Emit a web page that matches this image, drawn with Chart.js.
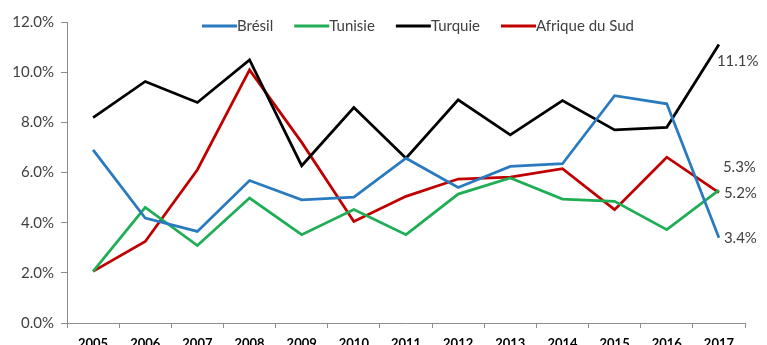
<!DOCTYPE html>
<html>
<head>
<meta charset="utf-8">
<script src="https://cdn.jsdelivr.net/npm/chart.js@4/dist/chart.umd.min.js"></script>
<style>
  html, body { margin: 0; padding: 0; background: #fff; }
  #wrap { width: 767px; height: 345px; position: relative; }
</style>
</head>
<body>
<div id="wrap"><canvas id="grafico"></canvas></div>
<script>
// ===================== DONNÉES =====================
const annees = ['2005', '2006', '2007', '2008', '2009', '2010', '2011', '2012', '2013', '2014', '2015', '2016', '2017'];

const bresil = [6.9, 4.18, 3.65, 5.68, 4.91, 5.02, 6.57, 5.40, 6.24, 6.35, 9.06, 8.74, 3.4];
const tunisie = [2.06, 4.61, 3.09, 4.98, 3.52, 4.52, 3.52, 5.14, 5.78, 4.94, 4.85, 3.72, 5.3];
const turquie = [8.19, 9.63, 8.79, 10.49, 6.27, 8.59, 6.57, 8.9, 7.5, 8.87, 7.7, 7.8, 11.1];
const afriqueDuSud = [2.06, 3.25, 6.11, 10.09, 7.2, 4.05, 5.05, 5.74, 5.82, 6.15, 4.52, 6.61, 5.2];

const yTicks = [0, 2, 4, 6, 8, 10, 12];

const FONT = 'Lato, "Open Sans", sans-serif';
const GRIS_TEXTE = '#404040';
const GRIS_AXE = '#8c8c8c';

// décalages des étiquettes de fin de série (en pixels)
const decalEtiquettes = {
    'Turquie': { dx: -2, dy: 17 },
    'Tunisie': { dx: 4, dy: -23 },
    'Afrique du Sud': { dx: 5, dy: 1 },
    'Brésil': { dx: 5, dy: 0 }
};

// ===================== PLUGINS =====================
// légende posée sur la zone du graphique, comme dans Excel
const legendePlugin = {
    id: 'legendeExcel',
    afterDraw(chart) {
        const ctx = chart.ctx;
        ctx.save();
        ctx.font = '15px ' + FONT;
        ctx.textBaseline = 'middle';
        let x = 202;
        const y = 26;
        chart.data.datasets.forEach(ds => {
            ctx.strokeStyle = ds.borderColor;
            ctx.lineWidth = 3;
            ctx.beginPath();
            ctx.moveTo(x, y);
            ctx.lineTo(x + 35, y);
            ctx.stroke();
            x += 35;
            ctx.fillStyle = GRIS_TEXTE;
            ctx.fillText(ds.label, x, y);
            x += ctx.measureText(ds.label).width + 21;
        });
        ctx.restore();
    }
};

// valeurs 2017 à droite des courbes
const etiquettesPlugin = {
    id: 'etiquettesFin',
    afterDatasetsDraw(chart) {
        const ctx = chart.ctx;
        ctx.save();
        ctx.font = '15px ' + FONT;
        ctx.fillStyle = GRIS_TEXTE;
        ctx.textBaseline = 'middle';
        chart.data.datasets.forEach((ds, i) => {
            const meta = chart.getDatasetMeta(i);
            const pt = meta.data[meta.data.length - 1];
            const v = ds.data[ds.data.length - 1];
            const d = decalEtiquettes[ds.label] || { dx: 4, dy: 0 };
            ctx.fillText(v.toFixed(1) + '%', pt.x + d.dx, pt.y + d.dy);
        });
        ctx.restore();
    }
};

// ===================== GRAPHIQUE =====================
function serie(label, data, couleur) {
    return {
        label: label,
        data: data,
        borderColor: couleur,
        backgroundColor: couleur,
        borderWidth: 2.75,
        pointRadius: 0,
        tension: 0,
        fill: false
    };
}

new Chart(document.getElementById('grafico'), {
    type: 'line',
    data: {
        labels: annees,
        datasets: [
            serie('Brésil', bresil, '#2a7abf'),
            serie('Tunisie', tunisie, '#1fae55'),
            serie('Turquie', turquie, '#000000'),
            serie('Afrique du Sud', afriqueDuSud, '#c00000')
        ]
    },
    options: {
        responsive: true,
        maintainAspectRatio: false,
        animation: false,
        layout: { padding: { top: 22, right: 22, left: 0, bottom: 0 } },
        plugins: {
            legend: { display: false },
            tooltip: { enabled: false }
        },
        scales: {
            x: {
                offset: true,
                grid: {
                    offset: true,
                    drawOnChartArea: false,
                    color: GRIS_AXE,
                    tickLength: 5
                },
                border: { color: GRIS_AXE },
                ticks: {
                    color: '#000',
                    font: { family: FONT, size: 13, weight: 'bold' },
                    padding: 8,
                    maxRotation: 0
                },
                afterFit(scale) { scale.height = 22; }
            },
            y: {
                min: 0,
                max: 12,
                afterBuildTicks(scale) {
                    scale.ticks = yTicks.map(v => ({ value: v }));
                },
                grid: {
                    drawOnChartArea: false,
                    color: GRIS_AXE,
                    tickLength: 6
                },
                border: { color: GRIS_AXE },
                ticks: {
                    color: GRIS_TEXTE,
                    font: { family: FONT, size: 15 },
                    padding: 7,
                    callback: v => v.toFixed(1) + '%'
                },
                afterFit(scale) { scale.width = 67; }
            }
        }
    },
    plugins: [legendePlugin, etiquettesPlugin]
});
</script>
</body>
</html>
